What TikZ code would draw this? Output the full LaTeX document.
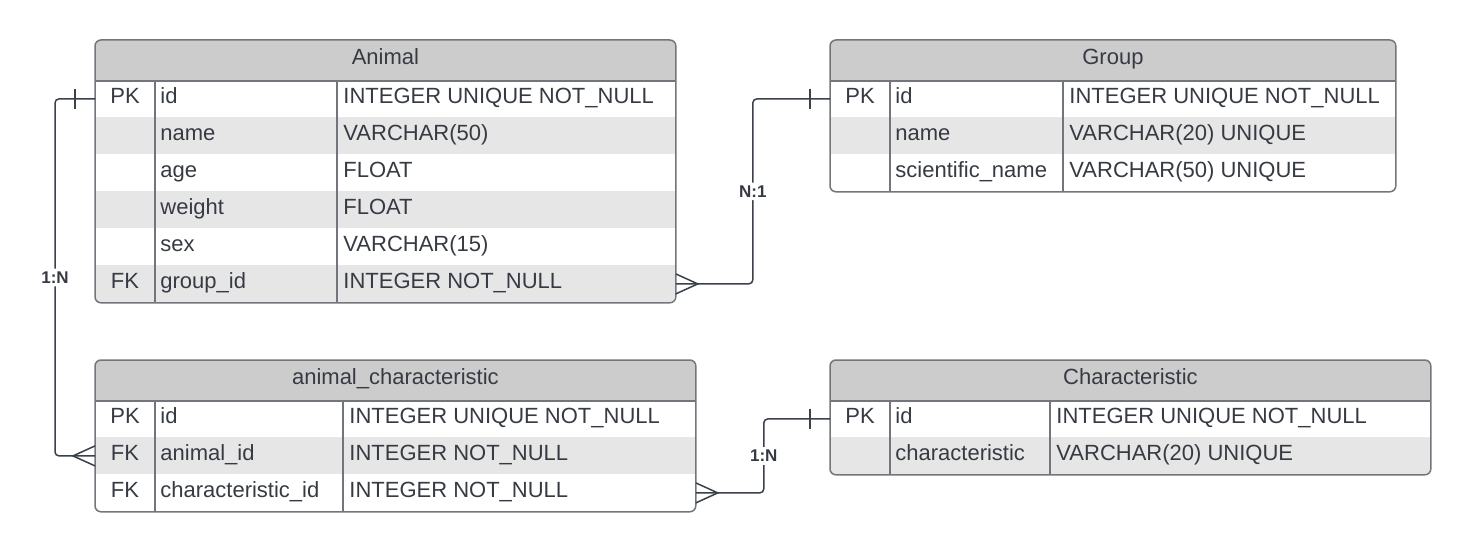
\documentclass[tikz,border=0pt]{standalone}
\usepackage{fontspec}
\setmainfont{Liberation Sans}
\usetikzlibrary{positioning}
\definecolor{headgray}{HTML}{CCCCCC}
\definecolor{rowgray}{HTML}{E6E6E6}
\definecolor{edge}{HTML}{72767C}
\definecolor{ink}{HTML}{363B43}
\definecolor{wire}{HTML}{3A414A}

\begin{document}
\begin{tikzpicture}[x=0.5pt,y=-0.5pt,font=\fontsize{11}{13}\selectfont,text=ink]
	\tikzstyle{tablehead}=[anchor=north west,inner sep=0pt,minimum height=20pt,fill=headgray,text height=8pt,text depth=3.6pt]
	\tikzstyle{tablerow}=[anchor=north west,inner sep=0pt,minimum height=18.5pt]
	\tikzstyle{cell}=[inner sep=0pt,text height=8pt,text depth=3.4pt]
	\tikzstyle{tableframe}=[draw=edge,line width=0.75pt,rounded corners=3pt]
	\tikzstyle{tablerule}=[draw=edge,line width=0.75pt]
	\tikzstyle{link}=[draw=wire,line width=0.75pt,rounded corners=2pt]
	\tikzstyle{crow}=[draw=wire,line width=0.75pt]
	\tikzstyle{card}=[font=\fontsize{8.5}{10}\selectfont\bfseries,fill=white,inner sep=1.5pt]
	
	\useasboundingbox (0,0) rectangle (1470,551);
	
	% Animal
	\begin{scope}
		\clip[rounded corners=3pt] (95,40) rectangle (675,302);
		\node[tablehead,minimum width=290pt] (animal) at (95,40) {Animal};
		\foreach \k/\f/\t/\c [count=\i] in {PK/id/INTEGER UNIQUE NOT\_NULL/white,
			/name/VARCHAR(50)/rowgray, /age/FLOAT/white, /weight/FLOAT/rowgray,
			/sex/VARCHAR(15)/white, FK/group\_id/INTEGER NOT\_NULL/rowgray}
		{
			\node[tablerow,fill=\c,minimum width=290pt] (animal-\i) at (95,{80+37*(\i-1)}) {};
			\node[cell] (animal-\i-key) at ([xshift=15pt]animal-\i.west) {\k};
			\node[cell,anchor=west] (animal-\i-field) at ([xshift=32.5pt]animal-\i.west) {\f};
			\node[cell,anchor=west] (animal-\i-type) at ([xshift=124pt]animal-\i.west) {\t};
		}
	\end{scope}
	\draw[tableframe] (animal.north west) rectangle (animal-6.south east);
	\draw[tablerule] (animal.south west) -- (animal.south east)
		([xshift=30pt]animal-1.north west) -- ([xshift=30pt]animal-6.south west)
		([xshift=121pt]animal-1.north west) -- ([xshift=121pt]animal-6.south west);
	
	% Group
	\begin{scope}
		\clip[rounded corners=3pt] (830,40) rectangle (1395,191);
		\node[tablehead,minimum width=282.5pt] (group) at (830,40) {Group};
		\foreach \k/\f/\t/\c [count=\i] in {PK/id/INTEGER UNIQUE NOT\_NULL/white,
			/name/VARCHAR(20) UNIQUE/rowgray, /scientific\_name/VARCHAR(50) UNIQUE/white}
		{
			\node[tablerow,fill=\c,minimum width=282.5pt] (group-\i) at (830,{80+37*(\i-1)}) {};
			\node[cell] (group-\i-key) at ([xshift=15pt]group-\i.west) {\k};
			\node[cell,anchor=west] (group-\i-field) at ([xshift=32.5pt]group-\i.west) {\f};
			\node[cell,anchor=west] (group-\i-type) at ([xshift=119.5pt]group-\i.west) {\t};
		}
	\end{scope}
	\draw[tableframe] (group.north west) rectangle (group-3.south east);
	\draw[tablerule] (group.south west) -- (group.south east)
		([xshift=30pt]group-1.north west) -- ([xshift=30pt]group-3.south west)
		([xshift=116.5pt]group-1.north west) -- ([xshift=116.5pt]group-3.south west);
	
	% animal_characteristic
	\begin{scope}
		\clip[rounded corners=3pt] (95,360) rectangle (695,511);
		\node[tablehead,minimum width=300pt] (ac) at (95,360) {animal\_characteristic};
		\foreach \k/\f/\t/\c [count=\i] in {PK/id/INTEGER UNIQUE NOT\_NULL/white,
			FK/animal\_id/INTEGER NOT\_NULL/rowgray, FK/characteristic\_id/INTEGER NOT\_NULL/white}
		{
			\node[tablerow,fill=\c,minimum width=300pt] (ac-\i) at (95,{400+37*(\i-1)}) {};
			\node[cell] (ac-\i-key) at ([xshift=15pt]ac-\i.west) {\k};
			\node[cell,anchor=west] (ac-\i-field) at ([xshift=32.5pt]ac-\i.west) {\f};
			\node[cell,anchor=west] (ac-\i-type) at ([xshift=127pt]ac-\i.west) {\t};
		}
	\end{scope}
	\draw[tableframe] (ac.north west) rectangle (ac-3.south east);
	\draw[tablerule] (ac.south west) -- (ac.south east)
		([xshift=30pt]ac-1.north west) -- ([xshift=30pt]ac-3.south west)
		([xshift=124pt]ac-1.north west) -- ([xshift=124pt]ac-3.south west);
	
	% Characteristic
	\begin{scope}
		\clip[rounded corners=3pt] (830,360) rectangle (1430,474);
		\node[tablehead,minimum width=300pt] (char) at (830,360) {Characteristic};
		\foreach \k/\f/\t/\c [count=\i] in {PK/id/INTEGER UNIQUE NOT\_NULL/white,
			/characteristic/VARCHAR(20) UNIQUE/rowgray}
		{
			\node[tablerow,fill=\c,minimum width=300pt] (char-\i) at (830,{400+37*(\i-1)}) {};
			\node[cell] (char-\i-key) at ([xshift=15pt]char-\i.west) {\k};
			\node[cell,anchor=west] (char-\i-field) at ([xshift=32.5pt]char-\i.west) {\f};
			\node[cell,anchor=west] (char-\i-type) at ([xshift=113pt]char-\i.west) {\t};
		}
	\end{scope}
	\draw[tableframe] (char.north west) rectangle (char-2.south east);
	\draw[tablerule] (char.south west) -- (char.south east)
		([xshift=30pt]char-1.north west) -- ([xshift=30pt]char-2.south west)
		([xshift=110pt]char-1.north west) -- ([xshift=110pt]char-2.south west);
	
	% relations
	\draw[link] (animal-6.east) -- ++(77,0) -- node[card] (n1) {N:1} ++(0,-185) -- (group-1.west);
	\draw[crow] ([yshift=5pt]animal-6.east) -- ([xshift=11pt]animal-6.east) -- ([yshift=-5pt]animal-6.east);
	\draw[crow] ([xshift=-10pt,yshift=5pt]group-1.west) -- ([xshift=-10pt,yshift=-5pt]group-1.west);
	
	\draw[link] (animal-1.west) -- ++(-40,0) -- node[card] (an) {1:N} ++(0,357) -- (ac-2.west);
	\draw[crow] ([xshift=-10pt,yshift=5pt]animal-1.west) -- ([xshift=-10pt,yshift=-5pt]animal-1.west);
	\draw[crow] ([yshift=5pt]ac-2.west) -- ([xshift=-11pt]ac-2.west) -- ([yshift=-5pt]ac-2.west);
	
	\draw[link] (ac-3.east) -- ++(68,0) -- node[card] (cn) {1:N} ++(0,-74) -- (char-1.west);
	\draw[crow] ([yshift=5pt]ac-3.east) -- ([xshift=11pt]ac-3.east) -- ([yshift=-5pt]ac-3.east);
	\draw[crow] ([xshift=-10pt,yshift=5pt]char-1.west) -- ([xshift=-10pt,yshift=-5pt]char-1.west);
\end{tikzpicture}
\end{document}
